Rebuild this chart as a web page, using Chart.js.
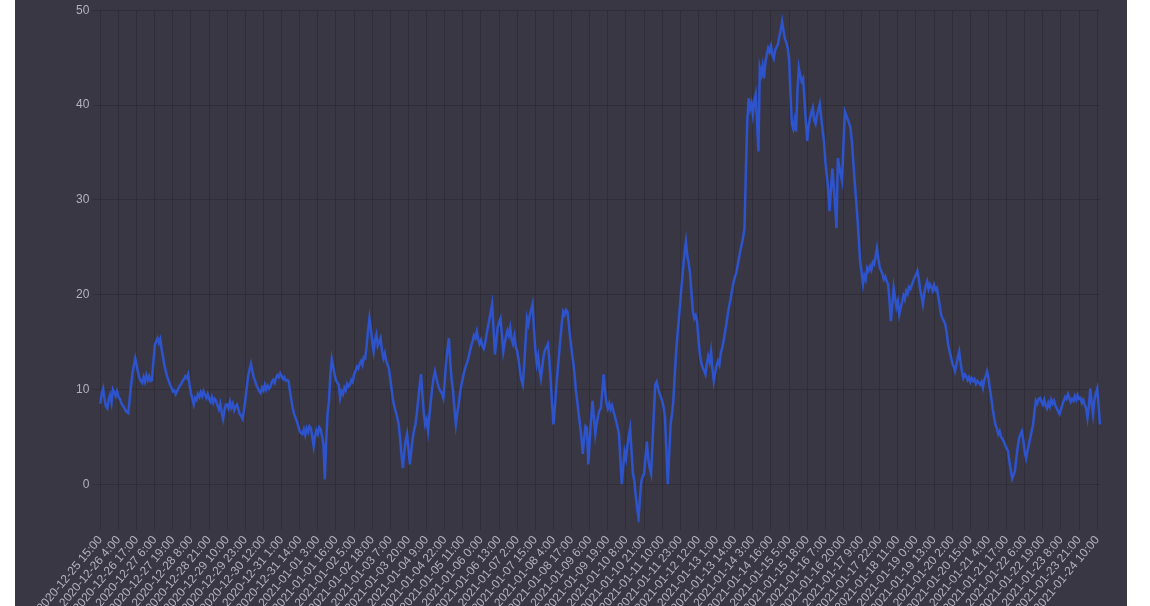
<!DOCTYPE html>
<html>
<head>
<meta charset="utf-8">
<script src="https://cdn.jsdelivr.net/npm/chart.js@4/dist/chart.umd.min.js"></script>
<style>
  html, body { margin: 0; padding: 0; background: #ffffff; overflow: hidden; }
  #wrap { position: absolute; left: 15px; top: 0; width: 1112px; height: 618px; background: #3a3745; }
</style>
</head>
<body>
<div id="wrap"><canvas id="lineChart"></canvas></div>
<script>
// hourly readings, first one at 2020-12-25 15:00
const startHour = Date.UTC(2020, 11, 25, 15);
const labelEvery = 13;

const values = [
  8.5, 9.6, 10.1, 9.0, 8.2, 8.0, 8.9, 9.4, 8.6, 10.0,
  9.7, 9.3, 9.8, 9.2, 9.0, 8.6, 8.3, 8.1, 7.8, 7.6,
  7.5, 8.9, 10.4, 11.6, 12.5, 13.3, 12.6, 11.8, 11.2, 10.9,
  10.7, 11.3, 10.8, 11.5, 11.0, 11.4, 10.9, 11.0, 12.8, 14.6,
  15.1, 15.4, 14.9, 15.3, 14.2, 13.4, 12.5, 11.9, 11.3, 10.9,
  10.5, 10.2, 9.8, 9.9, 9.5, 9.8, 10.1, 10.4, 10.6, 10.9,
  11.1, 11.4, 11.2, 11.6, 10.5, 9.6, 9.0, 8.4, 9.1, 8.9,
  9.5, 9.2, 9.7, 9.3, 9.8, 9.4, 9.1, 9.5, 9.0, 8.7,
  9.2, 8.6, 9.0, 8.8, 8.3, 7.9, 8.5, 7.6, 6.9, 7.8,
  8.4, 8.4, 8.0, 8.7, 8.1, 8.5, 7.8, 8.2, 8.4, 7.9,
  7.4, 7.2, 6.9, 7.8, 8.9, 10.2, 11.4, 12.1, 12.7, 12.0,
  11.3, 10.9, 10.4, 10.1, 9.8, 9.6, 10.2, 9.9, 10.5, 10.0,
  10.4, 10.1, 10.3, 10.8, 11.0, 10.7, 11.2, 11.5, 11.3, 11.7,
  11.4, 11.1, 11.3, 10.9, 11.0, 10.9, 9.8, 8.9, 8.0, 7.4,
  7.0, 6.6, 6.1, 5.6, 5.4, 5.3, 5.8, 5.2, 5.9, 5.5,
  6.1, 5.9, 5.0, 4.0, 5.1, 5.7, 5.3, 6.0, 5.8, 5.1,
  4.2, 0.5, 4.6, 7.5, 8.8, 11.6, 13.2, 12.4, 11.6, 11.0,
  10.7, 10.5, 9.1, 9.8, 9.5, 10.2, 9.9, 10.6, 10.3, 10.5,
  11.0, 10.8, 11.6, 11.9, 12.4, 12.2, 12.7, 13.0, 12.6, 13.4,
  13.3, 14.6, 16.2, 17.5, 16.4, 15.1, 14.0, 15.2, 15.8, 14.6,
  15.0, 15.4, 14.1, 13.3, 13.8, 13.0, 12.6, 12.2, 11.0, 9.9,
  8.8, 8.1, 7.6, 7.0, 6.3, 4.8, 3.1, 1.7, 3.4, 4.6,
  5.3, 3.7, 2.1, 3.5, 4.8, 5.7, 6.3, 7.5, 8.9, 10.4,
  11.6, 9.4, 7.5, 6.3, 6.8, 5.6, 7.2, 8.7, 10.1, 11.2,
  11.9, 11.2, 10.6, 10.1, 9.8, 9.6, 9.1, 10.8, 12.9, 14.2,
  15.4, 12.8, 11.0, 9.8, 7.9, 6.3, 7.5, 8.4, 9.6, 10.5,
  11.2, 11.9, 12.4, 12.8, 13.3, 14.0, 14.6, 15.1, 15.7, 15.4,
  16.1, 15.3, 14.8, 15.2, 14.6, 14.3, 14.9, 15.8, 16.6, 17.4,
  18.2, 19.0, 16.4, 13.7, 15.2, 16.5, 17.1, 17.5, 15.8, 14.0,
  14.9, 15.6, 16.2, 15.7, 16.5, 15.3, 14.8, 15.6, 14.5, 14.0,
  13.1, 11.9, 11.0, 10.5, 12.6, 15.1, 17.5, 16.9, 17.8, 18.4,
  19.0, 16.4, 14.2, 12.7, 13.5, 12.1, 11.2, 12.4, 13.6, 14.2,
  14.5, 14.8, 13.2, 11.0, 8.4, 6.3, 8.1, 10.2, 12.0, 13.7,
  15.4, 17.0, 18.2, 17.9, 18.4, 18.2, 16.9, 15.4, 14.2, 13.0,
  11.8, 10.0, 8.8, 7.5, 6.3, 5.0, 3.2, 4.8, 6.1, 5.9,
  2.1, 4.6, 6.9, 8.8, 7.0, 5.3, 6.4, 7.2, 7.8, 8.0,
  9.8, 11.6, 9.9, 8.6, 8.0, 8.5, 7.9, 8.3, 7.7, 7.2,
  6.6, 6.0, 5.3, 2.6, 0.0, 1.8, 3.4, 2.7, 4.0, 5.1,
  5.9, 3.4, 1.1, 0.4, -1.2, -2.5, -3.6, -1.5, 0.3, 0.8,
  1.1, 2.9, 4.5, 2.6, 1.7, 1.1, 4.2, 7.5, 10.5, 10.8,
  10.1, 9.6, 9.2, 8.8, 8.1, 7.0, 3.5, 0.0, 3.2, 6.3,
  7.4, 8.8, 11.6, 14.0, 15.9, 17.5, 19.3, 21.1, 22.8, 24.4,
  25.6, 24.1, 23.3, 22.2, 20.1, 18.2, 17.5, 17.8, 17.2, 15.3,
  13.7, 12.8, 12.3, 12.0, 11.6, 12.7, 13.5, 12.9, 14.0, 12.2,
  10.9, 11.8, 12.5, 13.0, 12.6, 13.8, 14.4, 15.1, 16.0, 16.9,
  17.9, 18.8, 19.5, 20.4, 21.2, 21.8, 22.2, 23.0, 23.8, 24.6,
  25.3, 26.0, 27.0, 33.0, 38.3, 40.7, 39.6, 40.2, 39.0, 40.4,
  41.1, 38.2, 35.1, 43.9, 43.2, 44.1, 42.8, 44.5, 45.3, 46.0,
  45.6, 46.2, 45.3, 44.9, 45.8, 46.1, 46.4, 47.2, 47.9, 48.8,
  47.8, 47.0, 46.6, 46.0, 44.9, 41.2, 38.0, 37.5, 38.4, 37.2,
  41.5, 43.9, 43.1, 42.5, 42.8, 40.6, 38.3, 36.2, 37.8, 38.6,
  39.2, 39.7, 38.4, 38.0, 38.9, 39.5, 40.1, 38.7, 37.4, 36.2,
  34.1, 32.6, 31.2, 28.8, 31.0, 33.3, 31.5, 29.4, 27.0, 34.4,
  33.5, 32.7, 32.0, 35.8, 39.3, 38.9, 38.5, 38.1, 37.6, 36.2,
  34.1, 32.0, 30.1, 28.1, 25.8, 23.5, 22.4, 21.1, 22.0, 21.6,
  22.8, 22.5, 23.0, 22.6, 23.4, 23.2, 24.0, 24.9, 23.8, 22.9,
  22.5, 22.2, 21.6, 21.9, 21.4, 21.1, 19.4, 17.2, 18.9, 20.7,
  19.6, 18.7, 19.3, 17.9, 18.6, 19.2, 19.9, 19.5, 20.4, 20.1,
  20.8, 20.6, 21.0, 21.4, 21.8, 22.1, 22.5, 21.7, 20.6, 19.8,
  19.0, 20.2, 20.9, 21.4, 20.6, 21.1, 20.8, 20.4, 21.0, 20.5,
  20.7, 19.8, 18.9, 17.9, 17.5, 17.2, 16.9, 16.0, 14.8, 14.1,
  13.5, 12.8, 12.4, 11.9, 12.6, 13.4, 14.0, 12.8, 11.9, 11.2,
  11.6, 11.4, 11.0, 11.3, 10.8, 11.2, 10.9, 11.1, 10.6, 10.9,
  10.7, 10.5, 10.8, 10.2, 11.0, 11.4, 11.9, 11.2, 10.1, 9.1,
  8.0, 7.1, 6.3, 5.9, 5.3, 5.6, 5.0, 4.8, 4.5, 4.1,
  3.8, 3.5, 2.4, 1.5, 0.6, 1.0, 1.4, 2.8, 3.9, 4.9,
  5.3, 5.6, 4.6, 3.4, 2.7, 3.5, 4.2, 4.9, 5.6, 6.3,
  7.6, 8.8, 8.5, 9.0, 9.1, 8.7, 8.4, 8.9, 8.3, 8.0,
  8.6, 8.2, 8.9, 8.5, 8.8, 8.3, 8.0, 7.7, 7.4, 7.9,
  8.4, 8.8, 9.2, 9.0, 9.5, 9.1, 8.7, 9.0, 8.8, 9.3,
  8.9, 9.4, 9.0, 9.1, 8.6, 8.9, 8.4, 8.0, 7.0, 8.2,
  10.1, 8.6, 7.4, 8.9, 9.6, 10.1, 8.3, 6.3
];

// "2020-12-25 15:00" style labels, one per reading
const pad = n => String(n).padStart(2, '0');
const labels = values.map((v, i) => {
  const d = new Date(startHour + i * 3600000);
  return d.getUTCFullYear() + '-' + pad(d.getUTCMonth() + 1) + '-' + pad(d.getUTCDate()) +
    ' ' + d.getUTCHours() + ':00';
});

const gridColor = 'rgba(0, 0, 0, 0.16)';
const tickColor = '#b4b3bd';

const ctx = document.getElementById('lineChart').getContext('2d');
new Chart(ctx, {
  type: 'line',
  data: {
    labels: labels,
    datasets: [{
      label: 'value',
      data: values,
      borderColor: '#2d54cc',
      borderWidth: 2.5,
      pointRadius: 0,
      tension: 0,
      fill: false
    }]
  },
  options: {
    responsive: true,
    maintainAspectRatio: false,
    animation: false,
    layout: { padding: { left: 58, right: 27 } },
    plugins: {
      legend: { display: false },
      tooltip: { enabled: false }
    },
    scales: {
      x: {
        border: { display: false },
        grid: { color: gridColor },
        ticks: {
          autoSkip: false,
          minRotation: 50,
          maxRotation: 50,
          color: tickColor,
          font: { family: 'Liberation Sans, Arial, sans-serif', size: 12 },
          // only every 13th hour gets a label (and a grid line)
          callback: (v, i) => (i % labelEvery === 0 ? labels[i] : null)
        }
      },
      y: {
        min: -4,
        max: 50,
        border: { display: false },
        grid: { color: gridColor },
        ticks: {
          stepSize: 10,
          color: tickColor,
          font: { family: 'Liberation Sans, Arial, sans-serif', size: 12 },
          callback: v => (v % 10 === 0 ? v : null)
        }
      }
    }
  }
});
</script>
</body>
</html>
